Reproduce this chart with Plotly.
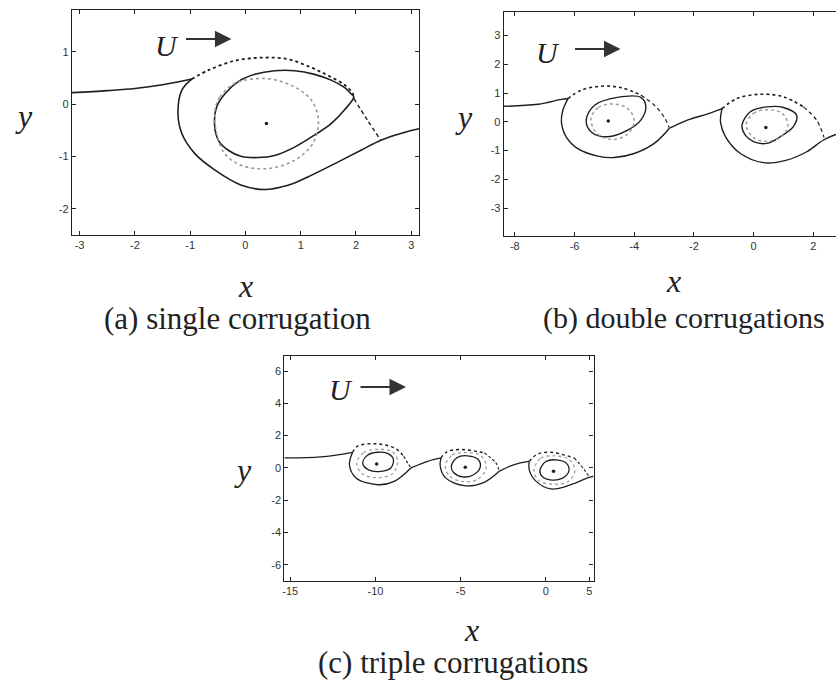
import plotly.graph_objects as go

W, H = 836, 690

# ---- (a) single corrugation ----
a_in_x = [-3.14, -2.5, -2.0, -1.5, -0.97]
a_in_y = [0.22, 0.26, 0.30, 0.37, 0.48]
a_low_x = [-0.97, -1.15, -1.22, -1.15, -0.91, -0.55, -0.07, 0.35, 0.77, 1.13, 1.61, 2.09, 2.45, 2.81, 3.14]
a_low_y = [0.48, 0.27, -0.18, -0.56, -0.95, -1.26, -1.55, -1.63, -1.55, -1.39, -1.14, -0.88, -0.69, -0.56, -0.47]
a_top_x = [-0.97, -0.67, -0.19, 0.29, 0.77, 1.19, 1.49, 1.79, 1.94, 1.96]
a_top_y = [0.48, 0.65, 0.83, 0.89, 0.86, 0.70, 0.55, 0.37, 0.21, 0.11]
a_dash_x = [1.96, 2.21, 2.45]
a_dash_y = [0.11, -0.31, -0.69]
a_inner_x = [1.96, 1.79, 1.55, 1.25, 0.89, 0.53, 0.23, -0.07, -0.31, -0.49, -0.56, -0.52, -0.37, -0.13, 0.17, 0.53, 0.89, 1.25, 1.55, 1.79, 1.91, 1.96]
a_inner_y = [0.14, -0.11, -0.37, -0.59, -0.82, -0.98, -1.02, -1.00, -0.88, -0.69, -0.37, -0.05, 0.20, 0.43, 0.57, 0.64, 0.64, 0.57, 0.46, 0.32, 0.20, 0.14]
a_ring_x = [-0.55, -0.46, -0.19, 0.35, 0.83, 1.19, 1.32, 1.22, 0.89, 0.41, -0.07, -0.37, -0.52, -0.55]
a_ring_y = [-0.11, 0.14, 0.40, 0.49, 0.36, 0.08, -0.31, -0.75, -1.07, -1.23, -1.17, -0.95, -0.56, -0.11]
a_dot_x = [0.38]
a_dot_y = [-0.37]

# ---- (b) double corrugations ----
b_in_x = [-8.4, -7.22, -6.44, -6.22]
b_in_y = [0.54, 0.61, 0.78, 0.81]
b1_low_x = [-6.22, -6.39, -6.44, -6.28, -5.89, -5.22, -4.67, -4.0, -3.33, -2.83]
b1_low_y = [0.81, 0.41, 0.0, -0.52, -0.93, -1.19, -1.24, -1.10, -0.75, -0.23]
b1_top_x = [-6.22, -5.78, -5.11, -4.44, -3.78]
b1_top_y = [0.81, 1.10, 1.24, 1.19, 0.93]
b1_dash_x = [-3.78, -3.33, -3.0, -2.83]
b1_dash_y = [0.93, 0.58, 0.17, -0.2]
b1_inner_x = [-5.61, -5.33, -4.56, -3.78, -3.61, -3.78, -4.22, -4.89, -5.44, -5.61]
b1_inner_y = [0.06, 0.58, 0.85, 0.85, 0.52, 0.06, -0.29, -0.52, -0.35, 0.06]
b1_ring_x = [-5.45, -5.2, -4.7, -4.2, -4.0, -4.25, -4.75, -5.25, -5.45]
b1_ring_y = [0.1, 0.5, 0.62, 0.45, 0.0, -0.45, -0.62, -0.4, 0.1]
b_mid_x = [-2.83, -2.22, -1.56, -1.06]
b_mid_y = [-0.23, 0.06, 0.27, 0.46]
b2_low_x = [-1.06, -1.11, -0.94, -0.44, 0.33, 1.11, 1.78, 2.33, 2.76]
b2_low_y = [0.46, 0.0, -0.52, -1.10, -1.42, -1.33, -1.04, -0.64, -0.44]
b2_top_x = [-1.06, -0.56, 0.22, 1.0, 1.67]
b2_top_y = [0.46, 0.81, 0.96, 0.87, 0.52]
b2_dash_x = [1.67, 2.11, 2.36]
b2_dash_y = [0.52, 0.06, -0.54]
b2_inner_x = [-0.39, -0.11, 0.44, 1.0, 1.44, 1.33, 0.89, 0.44, 0.0, -0.28, -0.39]
b2_inner_y = [-0.12, 0.35, 0.52, 0.50, 0.23, -0.17, -0.52, -0.75, -0.69, -0.46, -0.12]
b2_ring_x = [-0.25, 0.0, 0.45, 0.95, 1.15, 0.95, 0.45, 0.0, -0.25]
b2_ring_y = [-0.1, 0.3, 0.42, 0.3, -0.1, -0.5, -0.68, -0.55, -0.1]
b_dot_x = [-4.87, 0.41]
b_dot_y = [0.03, -0.20]

# ---- (c) triple corrugations ----
c_in_x = [-15.35, -13.2, -11.34]
c_in_y = [0.62, 0.68, 0.97]
c1_low_x = [-11.34, -11.53, -11.14, -9.87, -8.9, -7.92]
c1_low_y = [0.97, 0.21, -0.62, -1.04, -0.83, 0.0]
c1_top_x = [-11.34, -11.05, -9.87, -8.8, -8.35]
c1_top_y = [0.97, 1.35, 1.49, 1.18, 0.72]
c1_dash_x = [-8.35, -8.1, -7.92]
c1_dash_y = [0.72, 0.3, 0.0]
c_mid1_x = [-7.92, -6.94, -6.16]
c_mid1_y = [0.0, 0.41, 0.62]
c2_low_x = [-6.16, -6.2, -5.9, -4.79, -3.62, -2.74]
c2_low_y = [0.62, 0.1, -0.6, -1.10, -0.89, -0.21]
c2_top_x = [-6.16, -5.8, -4.99, -3.62]
c2_top_y = [0.62, 1.0, 1.14, 0.93]
c2_dash_x = [-3.62, -2.93, -2.74]
c2_dash_y = [0.93, 0.31, -0.21]
c_mid2_x = [-2.74, -1.86, -0.98]
c_mid2_y = [-0.21, 0.21, 0.41]
c3_low_x = [-0.98, -0.98, -0.6, 0.29, 1.47, 2.44, 2.8]
c3_low_y = [0.41, -0.1, -0.8, -1.30, -1.04, -0.62, -0.5]
c3_top_x = [-0.98, -0.5, 0.29, 1.66]
c3_top_y = [0.41, 0.85, 0.97, 0.62]
c3_dash_x = [1.66, 2.25, 2.54]
c3_dash_y = [0.62, -0.1, -0.56]
c1_inner_x = [-10.75, -10.45, -9.9, -9.3, -8.95, -9.1, -9.68, -10.4, -10.75]
c1_inner_y = [0.3, 0.8, 0.97, 0.9, 0.55, 0.0, -0.21, -0.12, 0.3]
c1_ring_x = [-11.1, -10.7, -9.9, -9.0, -8.7, -9.0, -9.9, -10.8, -11.1]
c1_ring_y = [0.3, 0.95, 1.15, 1.0, 0.4, -0.35, -0.6, -0.35, 0.3]
c2_inner_x = [-5.55, -5.2, -4.6, -4.0, -3.85, -4.3, -4.9, -5.4, -5.55]
c2_inner_y = [0.1, 0.65, 0.75, 0.55, 0.05, -0.45, -0.55, -0.3, 0.1]
c2_ring_x = [-5.9, -5.5, -4.7, -3.8, -3.5, -4.0, -4.8, -5.6, -5.9]
c2_ring_y = [0.1, 0.8, 0.95, 0.75, 0.0, -0.7, -0.85, -0.55, 0.1]
c3_inner_x = [-0.35, 0.0, 0.6, 1.2, 1.35, 0.95, 0.35, -0.2, -0.35]
c3_inner_y = [-0.15, 0.4, 0.5, 0.3, -0.2, -0.65, -0.75, -0.55, -0.15]
c3_ring_x = [-0.7, -0.3, 0.5, 1.4, 1.7, 1.3, 0.4, -0.4, -0.7]
c3_ring_y = [-0.15, 0.6, 0.75, 0.5, -0.2, -0.85, -1.0, -0.8, -0.15]
c_dot_x = [-9.93, -4.73, 0.45]
c_dot_y = [0.25, 0.04, -0.21]

# tick positions / labels
a_xticks = [-3, -2, -1, 0, 1, 2, 3]
a_yticks = [-2, -1, 0, 1]
b_xticks = [-8, -6, -4, -2, 0, 2]
b_yticks = [-3, -2, -1, 0, 1, 2, 3]
c_xticks = [-15, -10, -5, 0, 2.55]
c_xtext = ["-15", "-10", "-5", "0", "5"]
c_yticks = [-6, -4, -2, 0, 2, 4, 6]

DARK = "#1e1e1e"
GRAY = "#999999"

fig = go.Figure()


def curve(x, y, ax, dash="solid", color=DARK, width=1.6):
    fig.add_trace(go.Scatter(x=x, y=y, xaxis="x" + ax, yaxis="y" + ax, mode="lines",
                             line=dict(color=color, width=width, dash=dash, shape="spline", smoothing=1.0),
                             hoverinfo="skip", showlegend=False))


def dots(x, y, ax):
    fig.add_trace(go.Scatter(x=x, y=y, xaxis="x" + ax, yaxis="y" + ax, mode="markers",
                             marker=dict(color=DARK, size=3.5), hoverinfo="skip", showlegend=False))


# panel a
curve(a_in_x, a_in_y, "")
curve(a_low_x, a_low_y, "")
curve(a_top_x, a_top_y, "", dash="dot", width=1.8)
curve(a_dash_x, a_dash_y, "", dash="4px,3px", width=1.4)
curve(a_inner_x, a_inner_y, "")
curve(a_ring_x, a_ring_y, "", dash="dot", color=GRAY, width=1.6)
dots(a_dot_x, a_dot_y, "")

# panel b
for xs, ys in [(b_in_x, b_in_y), (b1_low_x, b1_low_y), (b_mid_x, b_mid_y), (b2_low_x, b2_low_y),
               (b1_inner_x, b1_inner_y), (b2_inner_x, b2_inner_y)]:
    curve(xs, ys, "2", width=1.4)
for xs, ys in [(b1_top_x, b1_top_y), (b2_top_x, b2_top_y)]:
    curve(xs, ys, "2", dash="dot", width=1.6)
for xs, ys in [(b1_dash_x, b1_dash_y), (b2_dash_x, b2_dash_y)]:
    curve(xs, ys, "2", dash="4px,3px", width=1.2)
for xs, ys in [(b1_ring_x, b1_ring_y), (b2_ring_x, b2_ring_y)]:
    curve(xs, ys, "2", dash="dot", color=GRAY, width=1.4)
dots(b_dot_x, b_dot_y, "2")

# panel c
for xs, ys in [(c_in_x, c_in_y), (c1_low_x, c1_low_y), (c_mid1_x, c_mid1_y), (c2_low_x, c2_low_y),
               (c_mid2_x, c_mid2_y), (c3_low_x, c3_low_y),
               (c1_inner_x, c1_inner_y), (c2_inner_x, c2_inner_y), (c3_inner_x, c3_inner_y)]:
    curve(xs, ys, "3", width=1.3)
for xs, ys in [(c1_top_x, c1_top_y), (c2_top_x, c2_top_y), (c3_top_x, c3_top_y)]:
    curve(xs, ys, "3", dash="dot", width=1.4)
for xs, ys in [(c1_dash_x, c1_dash_y), (c2_dash_x, c2_dash_y), (c3_dash_x, c3_dash_y)]:
    curve(xs, ys, "3", dash="3px,2px", width=1.1)
for xs, ys in [(c1_ring_x, c1_ring_y), (c2_ring_x, c2_ring_y), (c3_ring_x, c3_ring_y)]:
    curve(xs, ys, "3", dash="dot", color=GRAY, width=1.2)
dots(c_dot_x, c_dot_y, "3")


def px_x(px):
    return px / W


def px_y(py):
    return 1 - py / H


tickfont = dict(family="Liberation Sans, Arial", size=11, color="#333")


def xax(dom, rng, ticks, text=None, anchor="y"):
    return dict(domain=[px_x(dom[0]), px_x(dom[1])], range=rng, anchor=anchor,
                tickvals=ticks, ticktext=text or [str(t) for t in ticks],
                ticks="inside", ticklen=4, tickcolor="#222",
                showline=True, linecolor="#222", linewidth=1.2, mirror="ticks",
                showgrid=False, zeroline=False, tickfont=tickfont, fixedrange=True)


def yax(dom, rng, ticks, anchor="x", mirror="ticks"):
    return dict(domain=[px_y(dom[1]), px_y(dom[0])], range=rng, anchor=anchor,
                tickvals=ticks, ticktext=[str(t) for t in ticks],
                ticks="inside", ticklen=4, tickcolor="#222",
                showline=True, linecolor="#222", linewidth=1.2, mirror=mirror,
                showgrid=False, zeroline=False, tickfont=tickfont, fixedrange=True)


serif = "Liberation Serif, Times New Roman, serif"
notes = []


def label(text, px, py, size, italic=False):
    t = "<i>%s</i>" % text if italic else text
    notes.append(dict(text=t, x=px_x(px), y=px_y(py), xref="paper", yref="paper",
                      showarrow=False, xanchor="center", yanchor="middle",
                      font=dict(family=serif, size=size, color="#222")))


def flow_arrow(ux, uy, x0, x1, ay):
    label("U", ux, uy, 30, italic=True)
    notes.append(dict(x=px_x(x1), y=px_y(ay), xref="paper", yref="paper", text="",
                      showarrow=True, ax=-(x1 - x0), ay=0, axref="pixel", ayref="pixel",
                      arrowhead=2, arrowsize=1.5, arrowwidth=2.2, arrowcolor="#333"))


label("(a) single corrugation", 236, 318, 31)
label("(b) double corrugations", 684, 318, 30)
label("(c) triple corrugations", 452, 662, 31)
label("x", 244, 286, 32, italic=True)
label("x", 673, 281, 32, italic=True)
label("x", 471, 630, 32, italic=True)
label("y", 22, 116, 32, italic=True)
label("y", 463, 117, 32, italic=True)
label("y", 242, 470, 32, italic=True)
flow_arrow(165, 46, 183, 230, 39)
flow_arrow(547, 52, 573, 620, 49)
flow_arrow(340, 389, 358, 405, 387)

fig.update_layout(
    width=W, height=H, margin=dict(l=0, r=0, t=0, b=0),
    paper_bgcolor="white", plot_bgcolor="white",
    xaxis=xax((70, 418), [-3.14, 3.14], a_xticks),
    yaxis=yax((10, 235), [-2.5, 1.8], a_yticks),
    xaxis2=xax((503, 836), [-8.37, 2.76], b_xticks, anchor="y2"),
    yaxis2=yax((12, 236), [-3.97, 3.82], b_yticks, anchor="x2", mirror=False),
    xaxis3=xax((283, 593), [-15.35, 2.8], c_xticks, c_xtext, anchor="y3"),
    yaxis3=yax((356, 581), [-7.0, 6.93], c_yticks, anchor="x3"),
    annotations=notes,
)

# the page's default 8px body margin would shift the whole figure
fig.write_html("out.html", config={"displayModeBar": False},
               post_script="document.body.style.margin = '0';")
